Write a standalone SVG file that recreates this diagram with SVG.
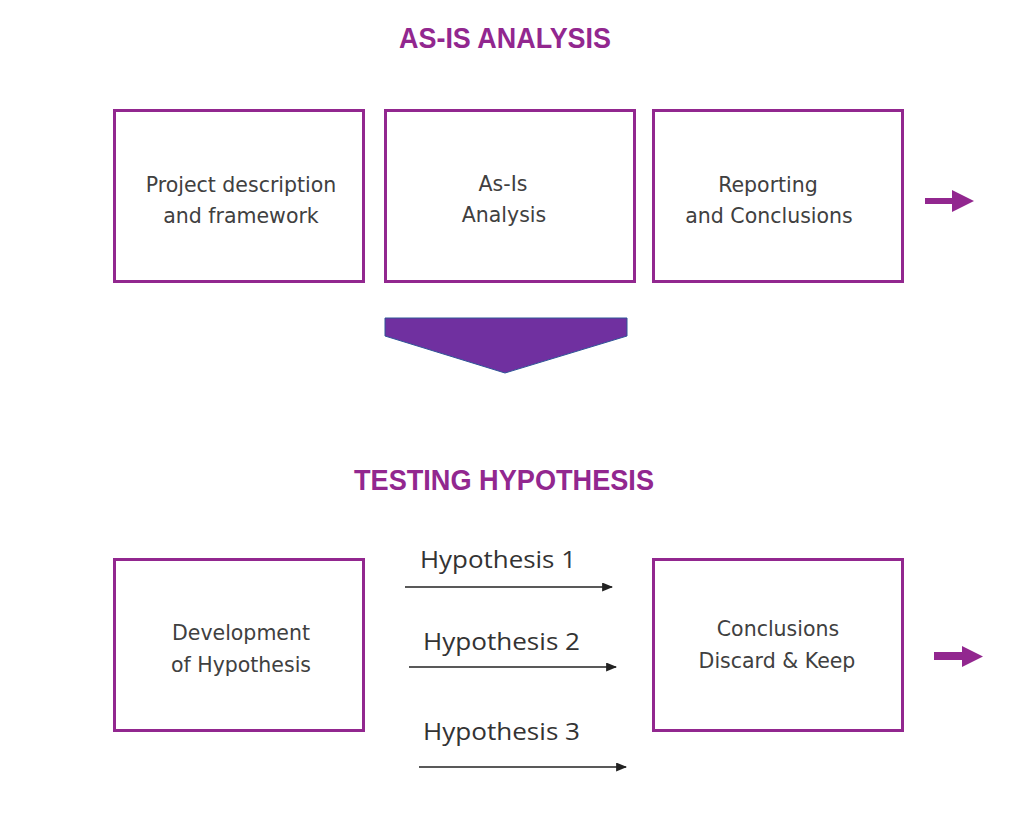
<svg xmlns="http://www.w3.org/2000/svg" width="1024" height="813" viewBox="0 0 1024 813">
<defs>
<style>
.box{fill:#fff;stroke:#92278F;stroke-width:3}
.title{font-family:"Liberation Sans",Arial,sans-serif;font-weight:bold;font-size:29px;fill:#92278F;text-anchor:middle}
.lbl{font-family:"DejaVu Sans","Liberation Sans",sans-serif;font-size:20.5px;fill:#404040;text-anchor:middle}
.hyp{font-family:"Open Sans","Liberation Sans",sans-serif;font-size:24px;fill:#333;text-anchor:start}
.conn{stroke:#222;stroke-width:1.6;fill:none;marker-end:url(#ah)}
.parrow{fill:#92278F}
</style>
<marker id="ah" viewBox="0 0 10 10" refX="9" refY="5" markerWidth="11" markerHeight="9" markerUnits="userSpaceOnUse" orient="auto" preserveAspectRatio="none">
<path d="M0,0 L10,5 L0,10 z" fill="#222"/>
</marker>
</defs>
<rect width="1024" height="813" fill="#fff"/>
<text class="title" x="505" y="48" textLength="212" lengthAdjust="spacingAndGlyphs">AS-IS ANALYSIS</text>
<text class="title" x="504" y="490" textLength="300" lengthAdjust="spacingAndGlyphs">TESTING HYPOTHESIS</text>
<g id="node-project">
<rect class="box" x="114.5" y="110.5" width="249" height="171"/>
<text class="lbl" x="241" y="192">Project description</text>
<text class="lbl" x="241" y="223">and framework</text>
</g>
<g id="node-asis">
<rect class="box" x="385.5" y="110.5" width="249" height="171"/>
<text class="lbl" x="503" y="191">As-Is</text>
<text class="lbl" x="504" y="222">Analysis</text>
</g>
<g id="node-reporting">
<rect class="box" x="653.5" y="110.5" width="249" height="171"/>
<text class="lbl" x="768" y="192">Reporting</text>
<text class="lbl" x="769" y="223">and Conclusions</text>
</g>
<g id="node-chevron">
<polygon points="385,318 627,318 627,336 505,373 385,336" fill="#7030A0" stroke="#2F5597" stroke-width="1"/>
</g>
<g id="node-development">
<rect class="box" x="114.5" y="559.5" width="249" height="171"/>
<text class="lbl" x="241" y="640">Development</text>
<text class="lbl" x="241" y="672">of Hypothesis</text>
</g>
<g id="node-conclusions">
<rect class="box" x="653.5" y="559.5" width="249" height="171"/>
<text class="lbl" x="778" y="636">Conclusions</text>
<text class="lbl" x="777" y="668">Discard &amp; Keep</text>
</g>
<g id="connectors">
<line class="conn" x1="405" y1="587" x2="612" y2="587"/>
<line class="conn" x1="409" y1="667" x2="616" y2="667"/>
<line class="conn" x1="419" y1="767" x2="626" y2="767"/>
<polygon class="parrow" points="925,198 952,198 952,190 974,201 952,212 952,204 925,204"/>
<polygon class="parrow" points="934,652 962,652 962,646 983,656.5 962,667 962,660 934,660"/>
</g>
<text class="hyp" x="420" y="568" textLength="156" lengthAdjust="spacingAndGlyphs">Hypothesis 1</text>
<text class="hyp" x="423" y="650" textLength="157" lengthAdjust="spacingAndGlyphs">Hypothesis 2</text>
<text class="hyp" x="423" y="740" textLength="157" lengthAdjust="spacingAndGlyphs">Hypothesis 3</text>
</svg>
